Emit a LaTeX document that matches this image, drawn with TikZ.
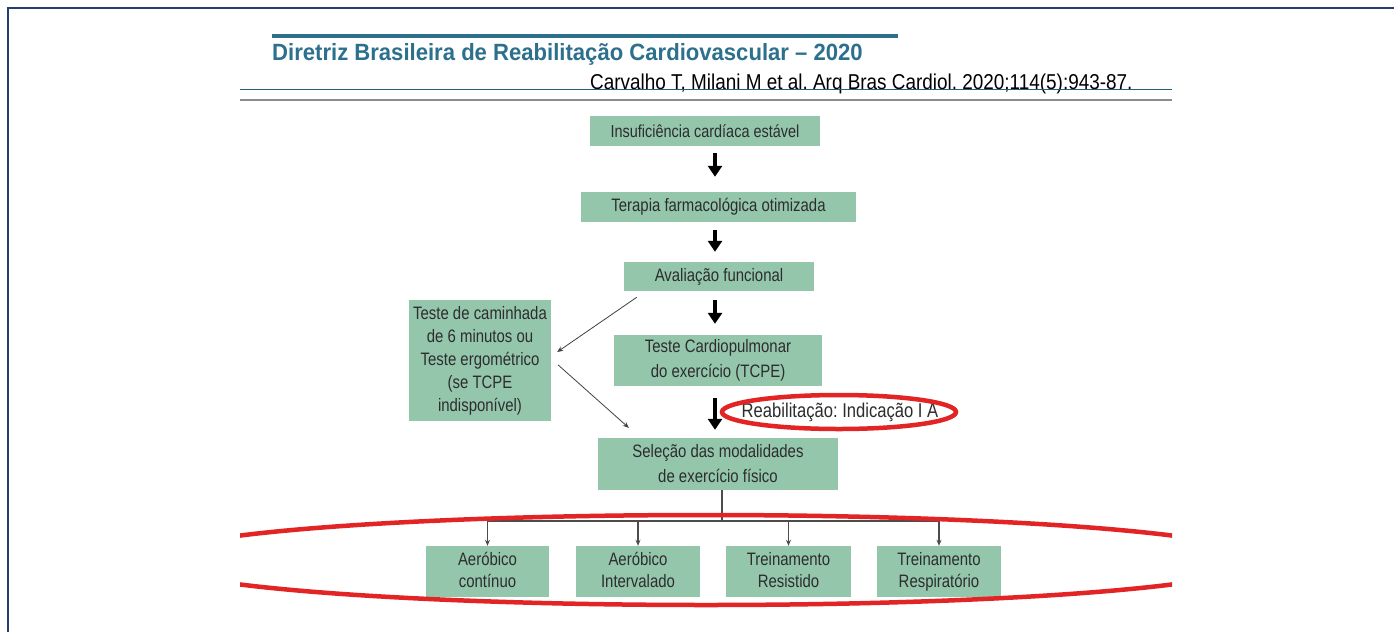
\documentclass[tikz,border=0pt]{standalone}
\usepackage{fontspec}
\setmainfont{Liberation Sans}
\newfontfamily\narrowfont[FakeStretch=0.83]{Liberation Sans}
\newfontfamily\titlefont[FakeStretch=0.94]{Liberation Sans}
\newfontfamily\citefont[FakeStretch=0.88]{Liberation Sans}
\usetikzlibrary{arrows.meta,calc}
\definecolor{boxgreen}{RGB}{148,198,172}
\definecolor{boxtext}{RGB}{45,45,45}
\definecolor{titleblue}{RGB}{44,112,142}
\definecolor{framblue}{RGB}{35,62,112}
\definecolor{ringred}{RGB}{226,36,36}
\frenchspacing
\tikzset{
  gbox/.style={fill=boxgreen, draw=none, inner sep=0pt, align=center, text=boxtext,
    font=\narrowfont\fontsize{18}{25}\selectfont},
  modbox/.style={gbox, minimum height=51pt, font=\narrowfont\fontsize{18}{22}\selectfont,
    execute at begin node=\vphantom{Á}, execute at end node=\vphantom{p}},
  bigarrow/.style={line width=4pt, draw=black, -{Triangle[width=14pt,length=11pt]}},
  thinarrow/.style={line width=0.8pt, draw=black!75, -{Stealth[width=5pt,length=6pt]}},
  treeline/.style={line width=1.1pt, draw=black!70},
  treearrow/.style={line width=1.1pt, draw=black!70, -{Stealth[width=5pt,length=6pt]}},
  ring/.style={draw=ringred, line width=4.5pt}
}
\begin{document}
\begin{tikzpicture}[x=1pt,y=-1pt]
\useasboundingbox (0,0) rectangle (1394,632);
\fill[white] (0,0) rectangle (1394,632);
% frame
\draw[framblue, line width=2.5pt] (8,632) -- (8,8) -- (1394,8);
% header
\draw[titleblue, line width=3.5pt] (272,36) -- (898,36);
\node[anchor=base west, inner sep=0pt, text=titleblue, font=\titlefont\bfseries\fontsize{23.5}{26}\selectfont] (title) at (272,60) {Diretriz Brasileira de Reabilitação Cardiovascular – 2020};
\node[anchor=base west, inner sep=0pt, text=black, font=\citefont\fontsize{21.5}{24}\selectfont] (cite) at (590,89) {Carvalho T, Milani M et al. Arq Bras Cardiol. 2020;114(5):943-87.};
\draw[titleblue!85!black, line width=1pt] (240,89) -- (1172,89);
\draw[black!45, line width=2.5pt] (240,100) -- (1172,100);

% boxes
\node[gbox, minimum width=230pt, minimum height=30pt, font=\narrowfont\fontsize{17.4}{24}\selectfont] (b1) at (705,131) {Insuficiência cardíaca estável};
\node[gbox, minimum width=275pt, minimum height=30pt] (b2) at (718.5,207) {Terapia farmacológica otimizada};
\node[gbox, minimum width=190pt, minimum height=29pt] (b3) at (719,276.5) {Avaliação funcional};
\node[gbox, minimum width=208pt, minimum height=51pt] (b4) at (718,360.5) {Teste Cardiopulmonar\\do exercício (TCPE)};
\node[gbox, minimum width=240pt, minimum height=52pt] (b5) at (718,464) {Seleção das modalidades\\de exercício físico};
\node[gbox, minimum width=142pt, minimum height=121pt, font=\narrowfont\fontsize{18}{23}\selectfont] (bl) at (480,360.5) {Teste de caminhada\\de 6 minutos ou\\Teste ergométrico\\(se TCPE\\indisponível)};
\node[modbox, minimum width=123pt] (b6) at (487.5,571.5) {Aeróbico\\contínuo};
\node[modbox, minimum width=124pt] (b7) at (638,571.5) {Aeróbico\\Intervalado};
\node[modbox, minimum width=125pt] (b8) at (788.5,571.5) {Treinamento\\Resistido};
\node[modbox, minimum width=124pt] (b9) at (939,571.5) {Treinamento\\Respiratório};

% thick arrows
\coordinate (ax) at (715,0);
\draw[bigarrow, shorten <=7pt, shorten >=15pt] (b1.south -| ax) -- (b2.north -| ax);
\draw[bigarrow, shorten <=8pt, shorten >=10pt] (b2.south -| ax) -- (b3.north -| ax);
\draw[bigarrow, shorten <=9pt, shorten >=11pt] (b3.south -| ax) -- (b4.north -| ax);
\draw[bigarrow, shorten <=12pt, shorten >=8pt] (b4.south -| ax) -- (b5.north -| ax);

% indication label and ring
\node[inner sep=0pt, text=boxtext, font=\narrowfont\fontsize{20}{24}\selectfont] (ind) at (840,412) {Reabilitação: Indicação I A};
\draw[ring] (839,412) ellipse [x radius=117pt, y radius=17pt];

% thin arrows
\draw[thinarrow] ([shift={(13,6)}]b3.south west) -- ([shift={(6,-8.5)}]bl.east);
\draw[thinarrow] ([shift={(7,4.5)}]bl.east) -- ([shift={(31,-10)}]b5.north west);

% tree
\coordinate (bus) at (0,521);
\coordinate (tx) at (722,0);
\draw[treeline] (b5.south -| tx) -- (bus -| tx);
\draw[treeline] (bus -| b6.north) -- (bus -| b9.north);
\foreach \n in {b6,b7,b8,b9}{
  \draw[treearrow] (bus -| \n.north) -- (\n.north);
}

% big ring
\begin{scope}
\clip (240,490) rectangle (1172,625);
\draw[ring] (706,560) ellipse [x radius=555pt, y radius=45pt];
\end{scope}
\end{tikzpicture}
\end{document}
